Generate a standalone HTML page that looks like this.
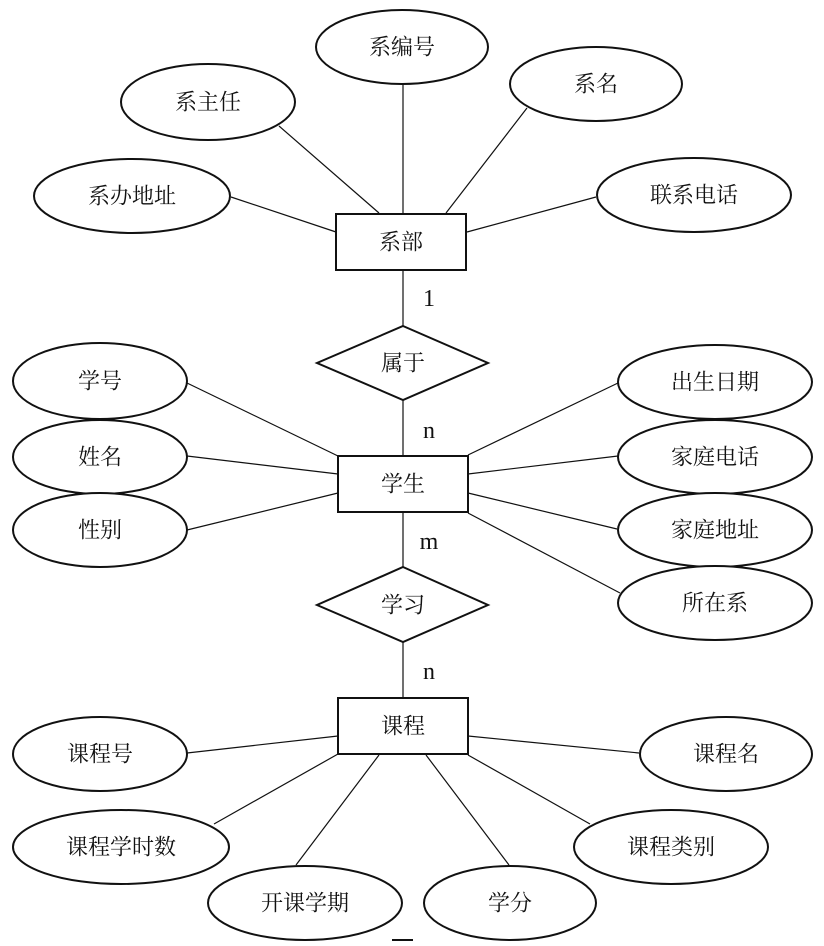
<!DOCTYPE html>
<html><head><meta charset="utf-8"><style>
html,body{margin:0;padding:0;background:#fff;}
svg{display:block;}
text.c{font-family:"Liberation Serif","Noto Serif CJK SC",serif;font-size:22px;fill:#111;text-anchor:middle;dominant-baseline:central;}
text.n{font-family:"Liberation Serif",serif;font-size:24px;fill:#111;text-anchor:middle;dominant-baseline:central;}
</style></head><body>
<svg width="824" height="946" viewBox="0 0 824 946" xmlns="http://www.w3.org/2000/svg">
<g stroke="#111" stroke-width="1.2" fill="none">
<line x1="279" y1="126" x2="379" y2="213"/>
<line x1="403" y1="84" x2="403" y2="214"/>
<line x1="527" y1="108" x2="446" y2="213"/>
<line x1="231" y1="197" x2="336" y2="232"/>
<line x1="596" y1="197" x2="467" y2="232"/>
<line x1="403" y1="270" x2="403" y2="326"/>
<line x1="403" y1="400" x2="403" y2="456"/>
<line x1="187" y1="383" x2="338" y2="456"/>
<line x1="187" y1="456" x2="338" y2="474"/>
<line x1="187" y1="530" x2="338" y2="493"/>
<line x1="618" y1="383" x2="468" y2="455"/>
<line x1="618" y1="456" x2="468" y2="474"/>
<line x1="617" y1="529" x2="468" y2="493"/>
<line x1="620" y1="593" x2="468" y2="513"/>
<line x1="403" y1="512" x2="403" y2="567"/>
<line x1="403" y1="642" x2="403" y2="698"/>
<line x1="187" y1="753" x2="338" y2="736"/>
<line x1="639" y1="753" x2="468" y2="736"/>
<line x1="214" y1="824" x2="338" y2="754"/>
<line x1="296" y1="865" x2="379" y2="755"/>
<line x1="509" y1="865" x2="426" y2="755"/>
<line x1="590" y1="824" x2="468" y2="755"/>
</g>
<g stroke="#111" stroke-width="2" fill="#fff">
<ellipse cx="402" cy="47" rx="86" ry="37"/>
<ellipse cx="596" cy="84" rx="86" ry="37"/>
<ellipse cx="208" cy="102" rx="87" ry="38"/>
<ellipse cx="132" cy="196" rx="98" ry="37"/>
<ellipse cx="694" cy="195" rx="97" ry="37"/>
<rect x="336" y="214" width="130" height="56"/>
<polygon points="403,326 488,363 403,400 317,363"/>
<ellipse cx="100" cy="381" rx="87" ry="38"/>
<ellipse cx="100" cy="457" rx="87" ry="37"/>
<ellipse cx="100" cy="530" rx="87" ry="37"/>
<ellipse cx="715" cy="382" rx="97" ry="37"/>
<ellipse cx="715" cy="457" rx="97" ry="37"/>
<ellipse cx="715" cy="530" rx="97" ry="37"/>
<ellipse cx="715" cy="603" rx="97" ry="37"/>
<rect x="338" y="456" width="130" height="56"/>
<polygon points="403,567 488,605 403,642 317,605"/>
<rect x="338" y="698" width="130" height="56"/>
<ellipse cx="100" cy="754" rx="87" ry="37"/>
<ellipse cx="726" cy="754" rx="86" ry="37"/>
<ellipse cx="121" cy="847" rx="108" ry="37"/>
<ellipse cx="671" cy="847" rx="97" ry="37"/>
<ellipse cx="305" cy="903" rx="97" ry="37"/>
<ellipse cx="510" cy="903" rx="86" ry="37"/>
</g>
<line x1="392" y1="940" x2="413" y2="940" stroke="#111" stroke-width="2"/>
<text class="c" x="402" y="47">系编号</text>
<text class="c" x="596" y="84">系名</text>
<text class="c" x="208" y="102">系主任</text>
<text class="c" x="132" y="196">系办地址</text>
<text class="c" x="694" y="195">联系电话</text>
<text class="c" x="401" y="242">系部</text>
<text class="n" x="429" y="299">1</text>
<text class="c" x="403" y="363">属于</text>
<text class="n" x="429" y="431">n</text>
<text class="c" x="100" y="381">学号</text>
<text class="c" x="100" y="457">姓名</text>
<text class="c" x="100" y="530">性别</text>
<text class="c" x="715" y="382">出生日期</text>
<text class="c" x="715" y="457">家庭电话</text>
<text class="c" x="715" y="530">家庭地址</text>
<text class="c" x="715" y="603">所在系</text>
<text class="c" x="403" y="484">学生</text>
<text class="n" x="429" y="542">m</text>
<text class="c" x="403" y="605">学习</text>
<text class="n" x="429" y="672">n</text>
<text class="c" x="403" y="726">课程</text>
<text class="c" x="100" y="754">课程号</text>
<text class="c" x="726" y="754">课程名</text>
<text class="c" x="121" y="847">课程学时数</text>
<text class="c" x="671" y="847">课程类别</text>
<text class="c" x="305" y="903">开课学期</text>
<text class="c" x="510" y="903">学分</text>
</svg>
</body></html>
